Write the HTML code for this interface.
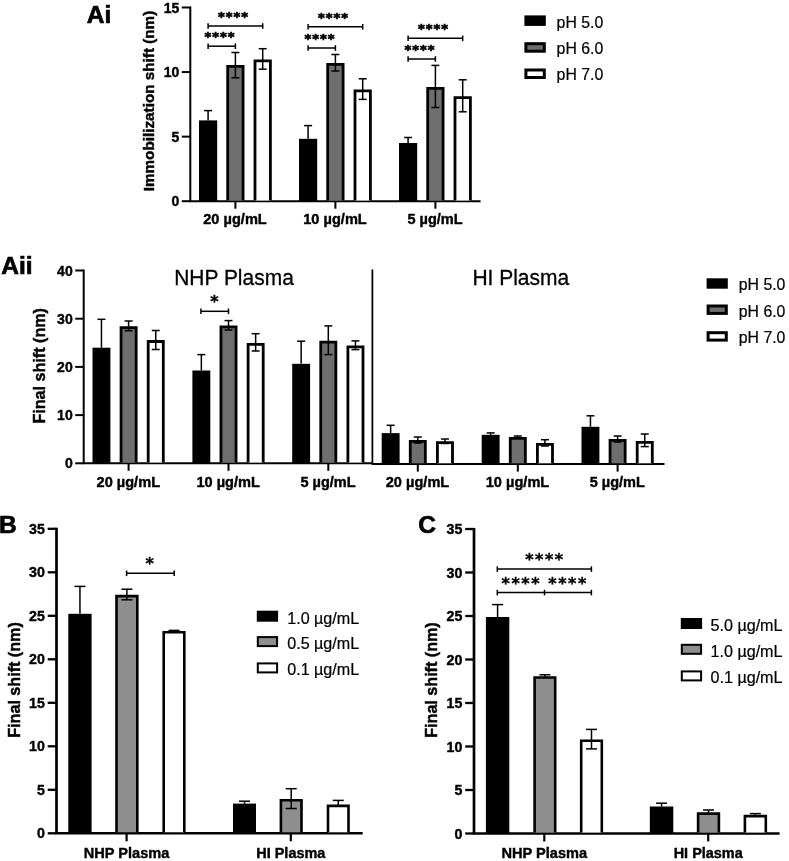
<!DOCTYPE html>
<html lang="en"><head><meta charset="utf-8"><title>Figure</title>
<style>
html,body{margin:0;padding:0;background:#fff;}
body{width:789px;height:861px;overflow:hidden;}
svg{display:block;}
</style></head><body>
<svg width="789" height="861" viewBox="0 0 789 861">
<defs><filter id="soft" x="0" y="0" width="789" height="861" filterUnits="userSpaceOnUse"><feGaussianBlur stdDeviation="0.5"/></filter></defs>
<rect x="0" y="0" width="789" height="861" fill="#fff"/>
<g filter="url(#soft)">
<line x1="190.30" y1="6.50" x2="190.30" y2="201.20" stroke="#000" stroke-width="2"/>
<line x1="189.30" y1="201.20" x2="480.60" y2="201.20" stroke="#000" stroke-width="2"/>
<line x1="181.80" y1="201.20" x2="190.30" y2="201.20" stroke="#000" stroke-width="2"/>
<text x="179.30" y="206.20" font-family="Liberation Sans, Arial, Helvetica, sans-serif" font-size="14" text-anchor="end" font-weight="bold" stroke="#000" stroke-width="0.39" fill="#000">0</text>
<line x1="181.80" y1="136.63" x2="190.30" y2="136.63" stroke="#000" stroke-width="2"/>
<text x="179.30" y="141.63" font-family="Liberation Sans, Arial, Helvetica, sans-serif" font-size="14" text-anchor="end" font-weight="bold" stroke="#000" stroke-width="0.39" fill="#000">5</text>
<line x1="181.80" y1="72.07" x2="190.30" y2="72.07" stroke="#000" stroke-width="2"/>
<text x="179.30" y="77.07" font-family="Liberation Sans, Arial, Helvetica, sans-serif" font-size="14" text-anchor="end" font-weight="bold" stroke="#000" stroke-width="0.39" fill="#000">10</text>
<line x1="181.80" y1="7.50" x2="190.30" y2="7.50" stroke="#000" stroke-width="2"/>
<text x="179.30" y="12.50" font-family="Liberation Sans, Arial, Helvetica, sans-serif" font-size="14" text-anchor="end" font-weight="bold" stroke="#000" stroke-width="0.39" fill="#000">15</text>
<text x="153.50" y="101.00" font-family="Liberation Sans, Arial, Helvetica, sans-serif" font-size="15.3" text-anchor="middle" font-weight="bold" textLength="180.5" lengthAdjust="spacingAndGlyphs" transform="rotate(-90 153.50 101.00)" stroke="#000" stroke-width="0.43" fill="#000">Immobilization shift (nm)</text>
<text x="86.80" y="22.90" font-family="Liberation Sans, Arial, Helvetica, sans-serif" font-size="24.5" text-anchor="start" font-weight="bold" stroke="#000" stroke-width="0.69" fill="#000">Ai</text>
<rect x="199.00" y="120.40" width="18.20" height="80.80" fill="#000"/>
<line x1="208.10" y1="110.60" x2="208.10" y2="120.40" stroke="#000" stroke-width="1.5"/>
<line x1="204.10" y1="110.60" x2="212.10" y2="110.60" stroke="#000" stroke-width="1.5"/>
<path d="M227.70 200.40V66.30H243.10V200.40" fill="#6e6e6e" stroke="#000" stroke-width="2.8" stroke-linejoin="miter"/>
<line x1="235.40" y1="52.50" x2="235.40" y2="77.80" stroke="#000" stroke-width="1.5"/>
<line x1="231.40" y1="52.50" x2="239.40" y2="52.50" stroke="#000" stroke-width="1.5"/>
<line x1="231.40" y1="77.80" x2="239.40" y2="77.80" stroke="#000" stroke-width="1.5"/>
<path d="M255.00 200.40V60.90H270.40V200.40" fill="#fff" stroke="#000" stroke-width="2.8" stroke-linejoin="miter"/>
<line x1="262.70" y1="48.70" x2="262.70" y2="69.20" stroke="#000" stroke-width="1.5"/>
<line x1="258.70" y1="48.70" x2="266.70" y2="48.70" stroke="#000" stroke-width="1.5"/>
<line x1="258.70" y1="69.20" x2="266.70" y2="69.20" stroke="#000" stroke-width="1.5"/>
<line x1="235.40" y1="201.20" x2="235.40" y2="208.70" stroke="#000" stroke-width="2"/>
<text x="235.00" y="223.50" font-family="Liberation Sans, Arial, Helvetica, sans-serif" font-size="14.3" text-anchor="middle" font-weight="bold" textLength="63.5" lengthAdjust="spacingAndGlyphs" stroke="#000" stroke-width="0.40" fill="#000">20 µg/mL</text>
<rect x="299.00" y="138.80" width="18.20" height="62.40" fill="#000"/>
<line x1="308.10" y1="125.60" x2="308.10" y2="138.80" stroke="#000" stroke-width="1.5"/>
<line x1="304.10" y1="125.60" x2="312.10" y2="125.60" stroke="#000" stroke-width="1.5"/>
<path d="M327.70 200.40V64.30H343.10V200.40" fill="#6e6e6e" stroke="#000" stroke-width="2.8" stroke-linejoin="miter"/>
<line x1="335.40" y1="54.50" x2="335.40" y2="71.00" stroke="#000" stroke-width="1.5"/>
<line x1="331.40" y1="54.50" x2="339.40" y2="54.50" stroke="#000" stroke-width="1.5"/>
<line x1="331.40" y1="71.00" x2="339.40" y2="71.00" stroke="#000" stroke-width="1.5"/>
<path d="M355.00 200.40V90.90H370.40V200.40" fill="#fff" stroke="#000" stroke-width="2.8" stroke-linejoin="miter"/>
<line x1="362.70" y1="78.80" x2="362.70" y2="99.40" stroke="#000" stroke-width="1.5"/>
<line x1="358.70" y1="78.80" x2="366.70" y2="78.80" stroke="#000" stroke-width="1.5"/>
<line x1="358.70" y1="99.40" x2="366.70" y2="99.40" stroke="#000" stroke-width="1.5"/>
<line x1="335.40" y1="201.20" x2="335.40" y2="208.70" stroke="#000" stroke-width="2"/>
<text x="335.00" y="223.50" font-family="Liberation Sans, Arial, Helvetica, sans-serif" font-size="14.3" text-anchor="middle" font-weight="bold" textLength="63.5" lengthAdjust="spacingAndGlyphs" stroke="#000" stroke-width="0.40" fill="#000">10 µg/mL</text>
<rect x="399.00" y="143.00" width="18.20" height="58.20" fill="#000"/>
<line x1="408.10" y1="137.50" x2="408.10" y2="143.00" stroke="#000" stroke-width="1.5"/>
<line x1="404.10" y1="137.50" x2="412.10" y2="137.50" stroke="#000" stroke-width="1.5"/>
<path d="M427.70 200.40V88.40H443.10V200.40" fill="#6e6e6e" stroke="#000" stroke-width="2.8" stroke-linejoin="miter"/>
<line x1="435.40" y1="65.40" x2="435.40" y2="107.50" stroke="#000" stroke-width="1.5"/>
<line x1="431.40" y1="65.40" x2="439.40" y2="65.40" stroke="#000" stroke-width="1.5"/>
<line x1="431.40" y1="107.50" x2="439.40" y2="107.50" stroke="#000" stroke-width="1.5"/>
<path d="M455.00 200.40V97.70H470.40V200.40" fill="#fff" stroke="#000" stroke-width="2.8" stroke-linejoin="miter"/>
<line x1="462.70" y1="79.80" x2="462.70" y2="111.80" stroke="#000" stroke-width="1.5"/>
<line x1="458.70" y1="79.80" x2="466.70" y2="79.80" stroke="#000" stroke-width="1.5"/>
<line x1="458.70" y1="111.80" x2="466.70" y2="111.80" stroke="#000" stroke-width="1.5"/>
<line x1="435.40" y1="201.20" x2="435.40" y2="208.70" stroke="#000" stroke-width="2"/>
<text x="435.00" y="223.50" font-family="Liberation Sans, Arial, Helvetica, sans-serif" font-size="14.3" text-anchor="middle" font-weight="bold" textLength="55.2" lengthAdjust="spacingAndGlyphs" stroke="#000" stroke-width="0.40" fill="#000">5 µg/mL</text>
<line x1="208.10" y1="26.00" x2="262.70" y2="26.00" stroke="#000" stroke-width="1.5"/>
<line x1="208.10" y1="23.20" x2="208.10" y2="28.80" stroke="#000" stroke-width="1.5"/>
<line x1="262.70" y1="23.20" x2="262.70" y2="28.80" stroke="#000" stroke-width="1.5"/>
<line x1="208.10" y1="46.20" x2="235.40" y2="46.20" stroke="#000" stroke-width="1.5"/>
<line x1="208.10" y1="43.40" x2="208.10" y2="49.00" stroke="#000" stroke-width="1.5"/>
<line x1="235.40" y1="43.40" x2="235.40" y2="49.00" stroke="#000" stroke-width="1.5"/>
<text x="233.06" y="20.77" font-family="DejaVu Sans Mono, DejaVu Sans, monospace" font-weight="bold" font-size="12.9" text-anchor="middle" fill="#000" stroke="#000" stroke-width="0.75">****</text>
<text x="219.41" y="41.37" font-family="DejaVu Sans Mono, DejaVu Sans, monospace" font-weight="bold" font-size="12.9" text-anchor="middle" fill="#000" stroke="#000" stroke-width="0.75">****</text>
<line x1="308.10" y1="26.80" x2="362.70" y2="26.80" stroke="#000" stroke-width="1.5"/>
<line x1="308.10" y1="24.00" x2="308.10" y2="29.60" stroke="#000" stroke-width="1.5"/>
<line x1="362.70" y1="24.00" x2="362.70" y2="29.60" stroke="#000" stroke-width="1.5"/>
<line x1="308.10" y1="48.00" x2="335.40" y2="48.00" stroke="#000" stroke-width="1.5"/>
<line x1="308.10" y1="45.20" x2="308.10" y2="50.80" stroke="#000" stroke-width="1.5"/>
<line x1="335.40" y1="45.20" x2="335.40" y2="50.80" stroke="#000" stroke-width="1.5"/>
<text x="333.06" y="21.57" font-family="DejaVu Sans Mono, DejaVu Sans, monospace" font-weight="bold" font-size="12.9" text-anchor="middle" fill="#000" stroke="#000" stroke-width="0.75">****</text>
<text x="319.41" y="43.17" font-family="DejaVu Sans Mono, DejaVu Sans, monospace" font-weight="bold" font-size="12.9" text-anchor="middle" fill="#000" stroke="#000" stroke-width="0.75">****</text>
<line x1="408.10" y1="38.30" x2="462.70" y2="38.30" stroke="#000" stroke-width="1.5"/>
<line x1="408.10" y1="35.50" x2="408.10" y2="41.10" stroke="#000" stroke-width="1.5"/>
<line x1="462.70" y1="35.50" x2="462.70" y2="41.10" stroke="#000" stroke-width="1.5"/>
<line x1="408.10" y1="59.00" x2="435.40" y2="59.00" stroke="#000" stroke-width="1.5"/>
<line x1="408.10" y1="56.20" x2="408.10" y2="61.80" stroke="#000" stroke-width="1.5"/>
<line x1="435.40" y1="56.20" x2="435.40" y2="61.80" stroke="#000" stroke-width="1.5"/>
<text x="433.06" y="33.07" font-family="DejaVu Sans Mono, DejaVu Sans, monospace" font-weight="bold" font-size="12.9" text-anchor="middle" fill="#000" stroke="#000" stroke-width="0.75">****</text>
<text x="419.41" y="54.17" font-family="DejaVu Sans Mono, DejaVu Sans, monospace" font-weight="bold" font-size="12.9" text-anchor="middle" fill="#000" stroke="#000" stroke-width="0.75">****</text>
<rect x="524.40" y="15.40" width="21.40" height="10.50" fill="#000"/>
<rect x="525.90" y="43.70" width="18.40" height="7.50" fill="#6e6e6e" stroke="#000" stroke-width="3.0"/>
<rect x="525.90" y="70.00" width="18.40" height="7.50" fill="#fff" stroke="#000" stroke-width="3.0"/>
<text x="556.60" y="27.50" font-family="Liberation Sans, Arial, Helvetica, sans-serif" font-size="16" text-anchor="start" textLength="46.6" lengthAdjust="spacingAndGlyphs" stroke="#000" stroke-width="0.22" fill="#000">pH 5.0</text>
<text x="556.60" y="53.50" font-family="Liberation Sans, Arial, Helvetica, sans-serif" font-size="16" text-anchor="start" textLength="46.6" lengthAdjust="spacingAndGlyphs" stroke="#000" stroke-width="0.22" fill="#000">pH 6.0</text>
<text x="556.60" y="79.70" font-family="Liberation Sans, Arial, Helvetica, sans-serif" font-size="16" text-anchor="start" textLength="46.6" lengthAdjust="spacingAndGlyphs" stroke="#000" stroke-width="0.22" fill="#000">pH 7.0</text>
<line x1="83.70" y1="269.50" x2="83.70" y2="463.30" stroke="#000" stroke-width="2"/>
<line x1="82.70" y1="463.30" x2="372.50" y2="463.30" stroke="#000" stroke-width="2"/>
<line x1="372.00" y1="464.10" x2="664.50" y2="464.10" stroke="#000" stroke-width="2"/>
<line x1="372.40" y1="269.50" x2="372.40" y2="464.80" stroke="#000" stroke-width="1.8"/>
<line x1="75.20" y1="463.30" x2="83.70" y2="463.30" stroke="#000" stroke-width="2"/>
<text x="72.70" y="468.30" font-family="Liberation Sans, Arial, Helvetica, sans-serif" font-size="14" text-anchor="end" font-weight="bold" stroke="#000" stroke-width="0.39" fill="#000">0</text>
<line x1="75.20" y1="415.10" x2="83.70" y2="415.10" stroke="#000" stroke-width="2"/>
<text x="72.70" y="420.10" font-family="Liberation Sans, Arial, Helvetica, sans-serif" font-size="14" text-anchor="end" font-weight="bold" stroke="#000" stroke-width="0.39" fill="#000">10</text>
<line x1="75.20" y1="366.90" x2="83.70" y2="366.90" stroke="#000" stroke-width="2"/>
<text x="72.70" y="371.90" font-family="Liberation Sans, Arial, Helvetica, sans-serif" font-size="14" text-anchor="end" font-weight="bold" stroke="#000" stroke-width="0.39" fill="#000">20</text>
<line x1="75.20" y1="318.70" x2="83.70" y2="318.70" stroke="#000" stroke-width="2"/>
<text x="72.70" y="323.70" font-family="Liberation Sans, Arial, Helvetica, sans-serif" font-size="14" text-anchor="end" font-weight="bold" stroke="#000" stroke-width="0.39" fill="#000">30</text>
<line x1="75.20" y1="270.50" x2="83.70" y2="270.50" stroke="#000" stroke-width="2"/>
<text x="72.70" y="275.50" font-family="Liberation Sans, Arial, Helvetica, sans-serif" font-size="14" text-anchor="end" font-weight="bold" stroke="#000" stroke-width="0.39" fill="#000">40</text>
<text x="45.00" y="365.80" font-family="Liberation Sans, Arial, Helvetica, sans-serif" font-size="16" text-anchor="middle" font-weight="bold" textLength="115.5" lengthAdjust="spacingAndGlyphs" transform="rotate(-90 45.00 365.80)" stroke="#000" stroke-width="0.45" fill="#000">Final shift (nm)</text>
<text x="1.20" y="274.00" font-family="Liberation Sans, Arial, Helvetica, sans-serif" font-size="24.5" text-anchor="start" font-weight="bold" stroke="#000" stroke-width="0.69" fill="#000">Aii</text>
<text x="174.20" y="284.60" font-family="Liberation Sans, Arial, Helvetica, sans-serif" font-size="22.2" text-anchor="start" textLength="119.6" lengthAdjust="spacingAndGlyphs" stroke="#000" stroke-width="0.31" fill="#000">NHP Plasma</text>
<text x="472.40" y="284.80" font-family="Liberation Sans, Arial, Helvetica, sans-serif" font-size="22.2" text-anchor="start" textLength="96.8" lengthAdjust="spacingAndGlyphs" stroke="#000" stroke-width="0.31" fill="#000">HI Plasma</text>
<rect x="92.50" y="347.70" width="17.90" height="115.60" fill="#000"/>
<line x1="101.45" y1="319.30" x2="101.45" y2="347.70" stroke="#000" stroke-width="1.5"/>
<line x1="97.45" y1="319.30" x2="105.45" y2="319.30" stroke="#000" stroke-width="1.5"/>
<path d="M121.05 462.50V327.60H136.15V462.50" fill="#6e6e6e" stroke="#000" stroke-width="2.8" stroke-linejoin="miter"/>
<line x1="128.60" y1="321.00" x2="128.60" y2="330.70" stroke="#000" stroke-width="1.5"/>
<line x1="124.60" y1="321.00" x2="132.60" y2="321.00" stroke="#000" stroke-width="1.5"/>
<line x1="124.60" y1="330.70" x2="132.60" y2="330.70" stroke="#000" stroke-width="1.5"/>
<path d="M148.20 462.50V341.50H163.30V462.50" fill="#fff" stroke="#000" stroke-width="2.8" stroke-linejoin="miter"/>
<line x1="155.75" y1="330.50" x2="155.75" y2="349.50" stroke="#000" stroke-width="1.5"/>
<line x1="151.75" y1="330.50" x2="159.75" y2="330.50" stroke="#000" stroke-width="1.5"/>
<line x1="151.75" y1="349.50" x2="159.75" y2="349.50" stroke="#000" stroke-width="1.5"/>
<line x1="128.60" y1="463.30" x2="128.60" y2="470.80" stroke="#000" stroke-width="2"/>
<text x="128.30" y="486.80" font-family="Liberation Sans, Arial, Helvetica, sans-serif" font-size="14.3" text-anchor="middle" font-weight="bold" textLength="63.5" lengthAdjust="spacingAndGlyphs" stroke="#000" stroke-width="0.40" fill="#000">20 µg/mL</text>
<rect x="192.40" y="370.50" width="17.90" height="92.80" fill="#000"/>
<line x1="201.35" y1="354.60" x2="201.35" y2="370.50" stroke="#000" stroke-width="1.5"/>
<line x1="197.35" y1="354.60" x2="205.35" y2="354.60" stroke="#000" stroke-width="1.5"/>
<path d="M220.95 462.50V326.80H236.05V462.50" fill="#6e6e6e" stroke="#000" stroke-width="2.8" stroke-linejoin="miter"/>
<line x1="228.50" y1="320.60" x2="228.50" y2="330.00" stroke="#000" stroke-width="1.5"/>
<line x1="224.50" y1="320.60" x2="232.50" y2="320.60" stroke="#000" stroke-width="1.5"/>
<line x1="224.50" y1="330.00" x2="232.50" y2="330.00" stroke="#000" stroke-width="1.5"/>
<path d="M248.10 462.50V344.30H263.20V462.50" fill="#fff" stroke="#000" stroke-width="2.8" stroke-linejoin="miter"/>
<line x1="255.65" y1="333.70" x2="255.65" y2="351.00" stroke="#000" stroke-width="1.5"/>
<line x1="251.65" y1="333.70" x2="259.65" y2="333.70" stroke="#000" stroke-width="1.5"/>
<line x1="251.65" y1="351.00" x2="259.65" y2="351.00" stroke="#000" stroke-width="1.5"/>
<line x1="228.50" y1="463.30" x2="228.50" y2="470.80" stroke="#000" stroke-width="2"/>
<text x="228.20" y="486.80" font-family="Liberation Sans, Arial, Helvetica, sans-serif" font-size="14.3" text-anchor="middle" font-weight="bold" textLength="63.5" lengthAdjust="spacingAndGlyphs" stroke="#000" stroke-width="0.40" fill="#000">10 µg/mL</text>
<rect x="292.20" y="363.80" width="17.90" height="99.50" fill="#000"/>
<line x1="301.15" y1="341.20" x2="301.15" y2="363.80" stroke="#000" stroke-width="1.5"/>
<line x1="297.15" y1="341.20" x2="305.15" y2="341.20" stroke="#000" stroke-width="1.5"/>
<path d="M320.75 462.50V342.10H335.85V462.50" fill="#6e6e6e" stroke="#000" stroke-width="2.8" stroke-linejoin="miter"/>
<line x1="328.30" y1="325.90" x2="328.30" y2="354.60" stroke="#000" stroke-width="1.5"/>
<line x1="324.30" y1="325.90" x2="332.30" y2="325.90" stroke="#000" stroke-width="1.5"/>
<line x1="324.30" y1="354.60" x2="332.30" y2="354.60" stroke="#000" stroke-width="1.5"/>
<path d="M347.90 462.50V346.90H363.00V462.50" fill="#fff" stroke="#000" stroke-width="2.8" stroke-linejoin="miter"/>
<line x1="355.45" y1="340.90" x2="355.45" y2="349.60" stroke="#000" stroke-width="1.5"/>
<line x1="351.45" y1="340.90" x2="359.45" y2="340.90" stroke="#000" stroke-width="1.5"/>
<line x1="351.45" y1="349.60" x2="359.45" y2="349.60" stroke="#000" stroke-width="1.5"/>
<line x1="328.30" y1="463.30" x2="328.30" y2="470.80" stroke="#000" stroke-width="2"/>
<text x="328.00" y="486.80" font-family="Liberation Sans, Arial, Helvetica, sans-serif" font-size="14.3" text-anchor="middle" font-weight="bold" textLength="55.2" lengthAdjust="spacingAndGlyphs" stroke="#000" stroke-width="0.40" fill="#000">5 µg/mL</text>
<rect x="381.70" y="433.10" width="17.90" height="31.00" fill="#000"/>
<line x1="390.65" y1="425.30" x2="390.65" y2="433.10" stroke="#000" stroke-width="1.5"/>
<line x1="386.65" y1="425.30" x2="394.65" y2="425.30" stroke="#000" stroke-width="1.5"/>
<path d="M410.25 463.30V441.40H425.35V463.30" fill="#6e6e6e" stroke="#000" stroke-width="2.8" stroke-linejoin="miter"/>
<line x1="417.80" y1="437.00" x2="417.80" y2="443.00" stroke="#000" stroke-width="1.5"/>
<line x1="413.80" y1="437.00" x2="421.80" y2="437.00" stroke="#000" stroke-width="1.5"/>
<line x1="413.80" y1="443.00" x2="421.80" y2="443.00" stroke="#000" stroke-width="1.5"/>
<path d="M437.40 463.30V442.70H452.50V463.30" fill="#fff" stroke="#000" stroke-width="2.8" stroke-linejoin="miter"/>
<line x1="444.95" y1="439.00" x2="444.95" y2="443.50" stroke="#000" stroke-width="1.5"/>
<line x1="440.95" y1="439.00" x2="448.95" y2="439.00" stroke="#000" stroke-width="1.5"/>
<line x1="440.95" y1="443.50" x2="448.95" y2="443.50" stroke="#000" stroke-width="1.5"/>
<line x1="417.80" y1="464.10" x2="417.80" y2="471.60" stroke="#000" stroke-width="2"/>
<text x="417.50" y="486.80" font-family="Liberation Sans, Arial, Helvetica, sans-serif" font-size="14.3" text-anchor="middle" font-weight="bold" textLength="63.5" lengthAdjust="spacingAndGlyphs" stroke="#000" stroke-width="0.40" fill="#000">20 µg/mL</text>
<rect x="481.70" y="434.80" width="17.90" height="29.30" fill="#000"/>
<line x1="490.65" y1="432.90" x2="490.65" y2="434.80" stroke="#000" stroke-width="1.5"/>
<line x1="486.65" y1="432.90" x2="494.65" y2="432.90" stroke="#000" stroke-width="1.5"/>
<path d="M510.25 463.30V438.40H525.35V463.30" fill="#6e6e6e" stroke="#000" stroke-width="2.8" stroke-linejoin="miter"/>
<line x1="517.80" y1="436.00" x2="517.80" y2="438.20" stroke="#000" stroke-width="1.5"/>
<line x1="513.80" y1="436.00" x2="521.80" y2="436.00" stroke="#000" stroke-width="1.5"/>
<line x1="513.80" y1="438.20" x2="521.80" y2="438.20" stroke="#000" stroke-width="1.5"/>
<path d="M537.40 463.30V444.40H552.50V463.30" fill="#fff" stroke="#000" stroke-width="2.8" stroke-linejoin="miter"/>
<line x1="544.95" y1="439.70" x2="544.95" y2="446.00" stroke="#000" stroke-width="1.5"/>
<line x1="540.95" y1="439.70" x2="548.95" y2="439.70" stroke="#000" stroke-width="1.5"/>
<line x1="540.95" y1="446.00" x2="548.95" y2="446.00" stroke="#000" stroke-width="1.5"/>
<line x1="517.80" y1="464.10" x2="517.80" y2="471.60" stroke="#000" stroke-width="2"/>
<text x="517.50" y="486.80" font-family="Liberation Sans, Arial, Helvetica, sans-serif" font-size="14.3" text-anchor="middle" font-weight="bold" textLength="63.5" lengthAdjust="spacingAndGlyphs" stroke="#000" stroke-width="0.40" fill="#000">10 µg/mL</text>
<rect x="581.50" y="426.80" width="17.90" height="37.30" fill="#000"/>
<line x1="590.45" y1="415.80" x2="590.45" y2="426.80" stroke="#000" stroke-width="1.5"/>
<line x1="586.45" y1="415.80" x2="594.45" y2="415.80" stroke="#000" stroke-width="1.5"/>
<path d="M610.05 463.30V440.40H625.15V463.30" fill="#6e6e6e" stroke="#000" stroke-width="2.8" stroke-linejoin="miter"/>
<line x1="617.60" y1="436.00" x2="617.60" y2="442.00" stroke="#000" stroke-width="1.5"/>
<line x1="613.60" y1="436.00" x2="621.60" y2="436.00" stroke="#000" stroke-width="1.5"/>
<line x1="613.60" y1="442.00" x2="621.60" y2="442.00" stroke="#000" stroke-width="1.5"/>
<path d="M637.20 463.30V442.30H652.30V463.30" fill="#fff" stroke="#000" stroke-width="2.8" stroke-linejoin="miter"/>
<line x1="644.75" y1="434.00" x2="644.75" y2="446.60" stroke="#000" stroke-width="1.5"/>
<line x1="640.75" y1="434.00" x2="648.75" y2="434.00" stroke="#000" stroke-width="1.5"/>
<line x1="640.75" y1="446.60" x2="648.75" y2="446.60" stroke="#000" stroke-width="1.5"/>
<line x1="617.60" y1="464.10" x2="617.60" y2="471.60" stroke="#000" stroke-width="2"/>
<text x="617.30" y="486.80" font-family="Liberation Sans, Arial, Helvetica, sans-serif" font-size="14.3" text-anchor="middle" font-weight="bold" textLength="55.2" lengthAdjust="spacingAndGlyphs" stroke="#000" stroke-width="0.40" fill="#000">5 µg/mL</text>
<line x1="200.90" y1="311.30" x2="228.50" y2="311.30" stroke="#000" stroke-width="1.5"/>
<line x1="200.90" y1="308.50" x2="200.90" y2="314.10" stroke="#000" stroke-width="1.5"/>
<line x1="228.50" y1="308.50" x2="228.50" y2="314.10" stroke="#000" stroke-width="1.5"/>
<text x="214.33" y="306.91" font-family="DejaVu Sans Mono, DejaVu Sans, monospace" font-weight="bold" font-size="16.4" text-anchor="middle" fill="#000" stroke="#000" stroke-width="0.30">*</text>
<rect x="706.60" y="278.30" width="21.20" height="10.40" fill="#000"/>
<rect x="708.10" y="306.00" width="18.20" height="7.40" fill="#6e6e6e" stroke="#000" stroke-width="3.0"/>
<rect x="708.10" y="332.70" width="18.20" height="7.40" fill="#fff" stroke="#000" stroke-width="3.0"/>
<text x="738.80" y="290.20" font-family="Liberation Sans, Arial, Helvetica, sans-serif" font-size="16" text-anchor="start" textLength="46.6" lengthAdjust="spacingAndGlyphs" stroke="#000" stroke-width="0.22" fill="#000">pH 5.0</text>
<text x="738.80" y="316.50" font-family="Liberation Sans, Arial, Helvetica, sans-serif" font-size="16" text-anchor="start" textLength="46.6" lengthAdjust="spacingAndGlyphs" stroke="#000" stroke-width="0.22" fill="#000">pH 6.0</text>
<text x="738.80" y="343.00" font-family="Liberation Sans, Arial, Helvetica, sans-serif" font-size="16" text-anchor="start" textLength="46.6" lengthAdjust="spacingAndGlyphs" stroke="#000" stroke-width="0.22" fill="#000">pH 7.0</text>
<line x1="56.50" y1="527.70" x2="56.50" y2="833.30" stroke="#000" stroke-width="2.7"/>
<line x1="55.20" y1="833.30" x2="362.70" y2="833.30" stroke="#000" stroke-width="2.4"/>
<line x1="47.70" y1="833.30" x2="56.50" y2="833.30" stroke="#000" stroke-width="2.3"/>
<text x="44.80" y="838.40" font-family="Liberation Sans, Arial, Helvetica, sans-serif" font-size="14.2" text-anchor="end" font-weight="bold" stroke="#000" stroke-width="0.40" fill="#000">0</text>
<line x1="47.70" y1="789.80" x2="56.50" y2="789.80" stroke="#000" stroke-width="2.3"/>
<text x="44.80" y="794.90" font-family="Liberation Sans, Arial, Helvetica, sans-serif" font-size="14.2" text-anchor="end" font-weight="bold" stroke="#000" stroke-width="0.40" fill="#000">5</text>
<line x1="47.70" y1="746.30" x2="56.50" y2="746.30" stroke="#000" stroke-width="2.3"/>
<text x="44.80" y="751.40" font-family="Liberation Sans, Arial, Helvetica, sans-serif" font-size="14.2" text-anchor="end" font-weight="bold" stroke="#000" stroke-width="0.40" fill="#000">10</text>
<line x1="47.70" y1="702.80" x2="56.50" y2="702.80" stroke="#000" stroke-width="2.3"/>
<text x="44.80" y="707.90" font-family="Liberation Sans, Arial, Helvetica, sans-serif" font-size="14.2" text-anchor="end" font-weight="bold" stroke="#000" stroke-width="0.40" fill="#000">15</text>
<line x1="47.70" y1="659.30" x2="56.50" y2="659.30" stroke="#000" stroke-width="2.3"/>
<text x="44.80" y="664.40" font-family="Liberation Sans, Arial, Helvetica, sans-serif" font-size="14.2" text-anchor="end" font-weight="bold" stroke="#000" stroke-width="0.40" fill="#000">20</text>
<line x1="47.70" y1="615.80" x2="56.50" y2="615.80" stroke="#000" stroke-width="2.3"/>
<text x="44.80" y="620.90" font-family="Liberation Sans, Arial, Helvetica, sans-serif" font-size="14.2" text-anchor="end" font-weight="bold" stroke="#000" stroke-width="0.40" fill="#000">25</text>
<line x1="47.70" y1="572.30" x2="56.50" y2="572.30" stroke="#000" stroke-width="2.3"/>
<text x="44.80" y="577.40" font-family="Liberation Sans, Arial, Helvetica, sans-serif" font-size="14.2" text-anchor="end" font-weight="bold" stroke="#000" stroke-width="0.40" fill="#000">30</text>
<line x1="47.70" y1="528.80" x2="56.50" y2="528.80" stroke="#000" stroke-width="2.3"/>
<text x="44.80" y="533.90" font-family="Liberation Sans, Arial, Helvetica, sans-serif" font-size="14.2" text-anchor="end" font-weight="bold" stroke="#000" stroke-width="0.40" fill="#000">35</text>
<text x="19.80" y="680.00" font-family="Liberation Sans, Arial, Helvetica, sans-serif" font-size="16" text-anchor="middle" font-weight="bold" textLength="115.5" lengthAdjust="spacingAndGlyphs" transform="rotate(-90 19.80 680.00)" stroke="#000" stroke-width="0.45" fill="#000">Final shift (nm)</text>
<text x="-0.90" y="533.20" font-family="Liberation Sans, Arial, Helvetica, sans-serif" font-size="24.5" text-anchor="start" font-weight="bold" stroke="#000" stroke-width="0.69" fill="#000">B</text>
<rect x="68.30" y="613.80" width="23.30" height="219.50" fill="#000"/>
<line x1="79.95" y1="586.40" x2="79.95" y2="613.80" stroke="#000" stroke-width="1.5"/>
<line x1="74.45" y1="586.40" x2="85.45" y2="586.40" stroke="#000" stroke-width="1.5"/>
<path d="M116.50 832.30V596.10H137.30V832.30" fill="#8e8e8e" stroke="#000" stroke-width="2.6" stroke-linejoin="miter"/>
<line x1="126.90" y1="589.20" x2="126.90" y2="599.80" stroke="#000" stroke-width="1.5"/>
<line x1="121.40" y1="589.20" x2="132.40" y2="589.20" stroke="#000" stroke-width="1.5"/>
<line x1="121.40" y1="599.80" x2="132.40" y2="599.80" stroke="#000" stroke-width="1.5"/>
<path d="M163.70 832.30V632.30H184.30V832.30" fill="#fff" stroke="#000" stroke-width="2.6" stroke-linejoin="miter"/>
<line x1="174.00" y1="630.40" x2="174.00" y2="631.60" stroke="#000" stroke-width="1.5"/>
<line x1="168.50" y1="630.40" x2="179.50" y2="630.40" stroke="#000" stroke-width="1.5"/>
<rect x="233.00" y="803.60" width="23.00" height="29.70" fill="#000"/>
<line x1="244.50" y1="801.20" x2="244.50" y2="803.60" stroke="#000" stroke-width="1.5"/>
<line x1="239.00" y1="801.20" x2="250.00" y2="801.20" stroke="#000" stroke-width="1.5"/>
<path d="M280.90 832.30V800.30H301.50V832.30" fill="#8e8e8e" stroke="#000" stroke-width="2.6" stroke-linejoin="miter"/>
<line x1="291.20" y1="788.70" x2="291.20" y2="808.50" stroke="#000" stroke-width="1.5"/>
<line x1="285.70" y1="788.70" x2="296.70" y2="788.70" stroke="#000" stroke-width="1.5"/>
<line x1="285.70" y1="808.50" x2="296.70" y2="808.50" stroke="#000" stroke-width="1.5"/>
<path d="M328.00 832.30V805.90H348.50V832.30" fill="#fff" stroke="#000" stroke-width="2.6" stroke-linejoin="miter"/>
<line x1="338.25" y1="800.40" x2="338.25" y2="806.00" stroke="#000" stroke-width="1.5"/>
<line x1="332.75" y1="800.40" x2="343.75" y2="800.40" stroke="#000" stroke-width="1.5"/>
<line x1="332.75" y1="806.00" x2="343.75" y2="806.00" stroke="#000" stroke-width="1.5"/>
<line x1="126.60" y1="833.30" x2="126.60" y2="841.30" stroke="#000" stroke-width="2.2"/>
<text x="126.60" y="857.70" font-family="Liberation Sans, Arial, Helvetica, sans-serif" font-size="14.4" text-anchor="middle" font-weight="bold" textLength="85.5" lengthAdjust="spacingAndGlyphs" stroke="#000" stroke-width="0.40" fill="#000">NHP Plasma</text>
<line x1="290.80" y1="833.30" x2="290.80" y2="841.30" stroke="#000" stroke-width="2.2"/>
<text x="290.80" y="857.70" font-family="Liberation Sans, Arial, Helvetica, sans-serif" font-size="14.4" text-anchor="middle" font-weight="bold" textLength="69" lengthAdjust="spacingAndGlyphs" stroke="#000" stroke-width="0.40" fill="#000">HI Plasma</text>
<rect x="256.80" y="610.70" width="21.30" height="11.00" fill="#000"/>
<rect x="257.80" y="637.10" width="19.30" height="9.00" fill="#8e8e8e" stroke="#000" stroke-width="2.0"/>
<rect x="257.80" y="663.40" width="19.30" height="9.00" fill="#fff" stroke="#000" stroke-width="2.0"/>
<text x="287.20" y="623.60" font-family="Liberation Sans, Arial, Helvetica, sans-serif" font-size="16" text-anchor="start" textLength="72" lengthAdjust="spacingAndGlyphs" stroke="#000" stroke-width="0.22" fill="#000">1.0 µg/mL</text>
<text x="287.20" y="649.00" font-family="Liberation Sans, Arial, Helvetica, sans-serif" font-size="16" text-anchor="start" textLength="72" lengthAdjust="spacingAndGlyphs" stroke="#000" stroke-width="0.22" fill="#000">0.5 µg/mL</text>
<text x="287.20" y="675.30" font-family="Liberation Sans, Arial, Helvetica, sans-serif" font-size="16" text-anchor="start" textLength="72" lengthAdjust="spacingAndGlyphs" stroke="#000" stroke-width="0.22" fill="#000">0.1 µg/mL</text>
<line x1="126.60" y1="573.30" x2="174.20" y2="573.30" stroke="#000" stroke-width="1.5"/>
<line x1="126.60" y1="570.50" x2="126.60" y2="576.10" stroke="#000" stroke-width="1.5"/>
<line x1="174.20" y1="570.50" x2="174.20" y2="576.10" stroke="#000" stroke-width="1.5"/>
<text x="149.73" y="569.11" font-family="DejaVu Sans Mono, DejaVu Sans, monospace" font-weight="bold" font-size="16.4" text-anchor="middle" fill="#000" stroke="#000" stroke-width="0.30">*</text>
<line x1="474.00" y1="527.90" x2="474.00" y2="833.50" stroke="#000" stroke-width="2.7"/>
<line x1="472.70" y1="833.50" x2="779.60" y2="833.50" stroke="#000" stroke-width="2.4"/>
<line x1="465.20" y1="833.50" x2="474.00" y2="833.50" stroke="#000" stroke-width="2.3"/>
<text x="462.30" y="838.60" font-family="Liberation Sans, Arial, Helvetica, sans-serif" font-size="14.2" text-anchor="end" font-weight="bold" stroke="#000" stroke-width="0.40" fill="#000">0</text>
<line x1="465.20" y1="790.00" x2="474.00" y2="790.00" stroke="#000" stroke-width="2.3"/>
<text x="462.30" y="795.10" font-family="Liberation Sans, Arial, Helvetica, sans-serif" font-size="14.2" text-anchor="end" font-weight="bold" stroke="#000" stroke-width="0.40" fill="#000">5</text>
<line x1="465.20" y1="746.50" x2="474.00" y2="746.50" stroke="#000" stroke-width="2.3"/>
<text x="462.30" y="751.60" font-family="Liberation Sans, Arial, Helvetica, sans-serif" font-size="14.2" text-anchor="end" font-weight="bold" stroke="#000" stroke-width="0.40" fill="#000">10</text>
<line x1="465.20" y1="703.00" x2="474.00" y2="703.00" stroke="#000" stroke-width="2.3"/>
<text x="462.30" y="708.10" font-family="Liberation Sans, Arial, Helvetica, sans-serif" font-size="14.2" text-anchor="end" font-weight="bold" stroke="#000" stroke-width="0.40" fill="#000">15</text>
<line x1="465.20" y1="659.50" x2="474.00" y2="659.50" stroke="#000" stroke-width="2.3"/>
<text x="462.30" y="664.60" font-family="Liberation Sans, Arial, Helvetica, sans-serif" font-size="14.2" text-anchor="end" font-weight="bold" stroke="#000" stroke-width="0.40" fill="#000">20</text>
<line x1="465.20" y1="616.00" x2="474.00" y2="616.00" stroke="#000" stroke-width="2.3"/>
<text x="462.30" y="621.10" font-family="Liberation Sans, Arial, Helvetica, sans-serif" font-size="14.2" text-anchor="end" font-weight="bold" stroke="#000" stroke-width="0.40" fill="#000">25</text>
<line x1="465.20" y1="572.50" x2="474.00" y2="572.50" stroke="#000" stroke-width="2.3"/>
<text x="462.30" y="577.60" font-family="Liberation Sans, Arial, Helvetica, sans-serif" font-size="14.2" text-anchor="end" font-weight="bold" stroke="#000" stroke-width="0.40" fill="#000">30</text>
<line x1="465.20" y1="529.00" x2="474.00" y2="529.00" stroke="#000" stroke-width="2.3"/>
<text x="462.30" y="534.10" font-family="Liberation Sans, Arial, Helvetica, sans-serif" font-size="14.2" text-anchor="end" font-weight="bold" stroke="#000" stroke-width="0.40" fill="#000">35</text>
<text x="437.20" y="680.00" font-family="Liberation Sans, Arial, Helvetica, sans-serif" font-size="16" text-anchor="middle" font-weight="bold" textLength="115.5" lengthAdjust="spacingAndGlyphs" transform="rotate(-90 437.20 680.00)" stroke="#000" stroke-width="0.45" fill="#000">Final shift (nm)</text>
<text x="418.20" y="533.20" font-family="Liberation Sans, Arial, Helvetica, sans-serif" font-size="24.5" text-anchor="start" font-weight="bold" stroke="#000" stroke-width="0.69" fill="#000">C</text>
<rect x="485.90" y="617.00" width="23.40" height="216.50" fill="#000"/>
<line x1="497.60" y1="604.60" x2="497.60" y2="617.00" stroke="#000" stroke-width="1.5"/>
<line x1="492.10" y1="604.60" x2="503.10" y2="604.60" stroke="#000" stroke-width="1.5"/>
<path d="M534.60 832.50V677.50H555.20V832.50" fill="#8e8e8e" stroke="#000" stroke-width="2.6" stroke-linejoin="miter"/>
<line x1="544.90" y1="674.80" x2="544.90" y2="677.40" stroke="#000" stroke-width="1.5"/>
<line x1="539.40" y1="674.80" x2="550.40" y2="674.80" stroke="#000" stroke-width="1.5"/>
<path d="M581.20 832.50V740.70H601.80V832.50" fill="#fff" stroke="#000" stroke-width="2.6" stroke-linejoin="miter"/>
<line x1="591.50" y1="729.40" x2="591.50" y2="748.90" stroke="#000" stroke-width="1.5"/>
<line x1="586.00" y1="729.40" x2="597.00" y2="729.40" stroke="#000" stroke-width="1.5"/>
<line x1="586.00" y1="748.90" x2="597.00" y2="748.90" stroke="#000" stroke-width="1.5"/>
<rect x="649.80" y="806.50" width="23.50" height="27.00" fill="#000"/>
<line x1="661.55" y1="803.20" x2="661.55" y2="806.50" stroke="#000" stroke-width="1.5"/>
<line x1="656.05" y1="803.20" x2="667.05" y2="803.20" stroke="#000" stroke-width="1.5"/>
<path d="M698.10 832.50V813.60H718.90V832.50" fill="#8e8e8e" stroke="#000" stroke-width="2.6" stroke-linejoin="miter"/>
<line x1="708.50" y1="810.00" x2="708.50" y2="814.00" stroke="#000" stroke-width="1.5"/>
<line x1="703.00" y1="810.00" x2="714.00" y2="810.00" stroke="#000" stroke-width="1.5"/>
<line x1="703.00" y1="814.00" x2="714.00" y2="814.00" stroke="#000" stroke-width="1.5"/>
<path d="M744.90 832.50V816.10H765.80V832.50" fill="#fff" stroke="#000" stroke-width="2.6" stroke-linejoin="miter"/>
<line x1="755.35" y1="813.60" x2="755.35" y2="816.00" stroke="#000" stroke-width="1.5"/>
<line x1="749.85" y1="813.60" x2="760.85" y2="813.60" stroke="#000" stroke-width="1.5"/>
<line x1="544.30" y1="833.50" x2="544.30" y2="841.50" stroke="#000" stroke-width="2.2"/>
<text x="544.30" y="857.70" font-family="Liberation Sans, Arial, Helvetica, sans-serif" font-size="14.4" text-anchor="middle" font-weight="bold" textLength="85.5" lengthAdjust="spacingAndGlyphs" stroke="#000" stroke-width="0.40" fill="#000">NHP Plasma</text>
<line x1="708.20" y1="833.50" x2="708.20" y2="841.50" stroke="#000" stroke-width="2.2"/>
<text x="708.20" y="857.70" font-family="Liberation Sans, Arial, Helvetica, sans-serif" font-size="14.4" text-anchor="middle" font-weight="bold" textLength="69" lengthAdjust="spacingAndGlyphs" stroke="#000" stroke-width="0.40" fill="#000">HI Plasma</text>
<rect x="680.80" y="618.00" width="21.30" height="11.00" fill="#000"/>
<rect x="681.80" y="644.80" width="19.30" height="9.00" fill="#8e8e8e" stroke="#000" stroke-width="2.0"/>
<rect x="681.80" y="671.40" width="19.30" height="9.00" fill="#fff" stroke="#000" stroke-width="2.0"/>
<text x="710.50" y="630.90" font-family="Liberation Sans, Arial, Helvetica, sans-serif" font-size="16" text-anchor="start" textLength="72" lengthAdjust="spacingAndGlyphs" stroke="#000" stroke-width="0.22" fill="#000">5.0 µg/mL</text>
<text x="710.50" y="656.70" font-family="Liberation Sans, Arial, Helvetica, sans-serif" font-size="16" text-anchor="start" textLength="72" lengthAdjust="spacingAndGlyphs" stroke="#000" stroke-width="0.22" fill="#000">1.0 µg/mL</text>
<text x="710.50" y="683.30" font-family="Liberation Sans, Arial, Helvetica, sans-serif" font-size="16" text-anchor="start" textLength="72" lengthAdjust="spacingAndGlyphs" stroke="#000" stroke-width="0.22" fill="#000">0.1 µg/mL</text>
<line x1="497.30" y1="569.10" x2="591.40" y2="569.10" stroke="#000" stroke-width="1.5"/>
<line x1="497.30" y1="566.30" x2="497.30" y2="571.90" stroke="#000" stroke-width="1.5"/>
<line x1="591.40" y1="566.30" x2="591.40" y2="571.90" stroke="#000" stroke-width="1.5"/>
<line x1="497.30" y1="592.60" x2="591.40" y2="592.60" stroke="#000" stroke-width="1.5"/>
<line x1="497.30" y1="589.80" x2="497.30" y2="595.40" stroke="#000" stroke-width="1.5"/>
<line x1="591.40" y1="589.80" x2="591.40" y2="595.40" stroke="#000" stroke-width="1.5"/>
<line x1="544.50" y1="589.80" x2="544.50" y2="595.40" stroke="#000" stroke-width="1.5"/>
<text x="544.23" y="564.71" font-family="DejaVu Sans Mono, DejaVu Sans, monospace" font-weight="bold" font-size="16.4" text-anchor="middle" fill="#000" stroke="#000" stroke-width="0.30">****</text>
<text x="520.53" y="589.11" font-family="DejaVu Sans Mono, DejaVu Sans, monospace" font-weight="bold" font-size="16.4" text-anchor="middle" fill="#000" stroke="#000" stroke-width="0.30">****</text>
<text x="567.33" y="589.11" font-family="DejaVu Sans Mono, DejaVu Sans, monospace" font-weight="bold" font-size="16.4" text-anchor="middle" fill="#000" stroke="#000" stroke-width="0.30">****</text>
</g>
</svg>
</body></html>
